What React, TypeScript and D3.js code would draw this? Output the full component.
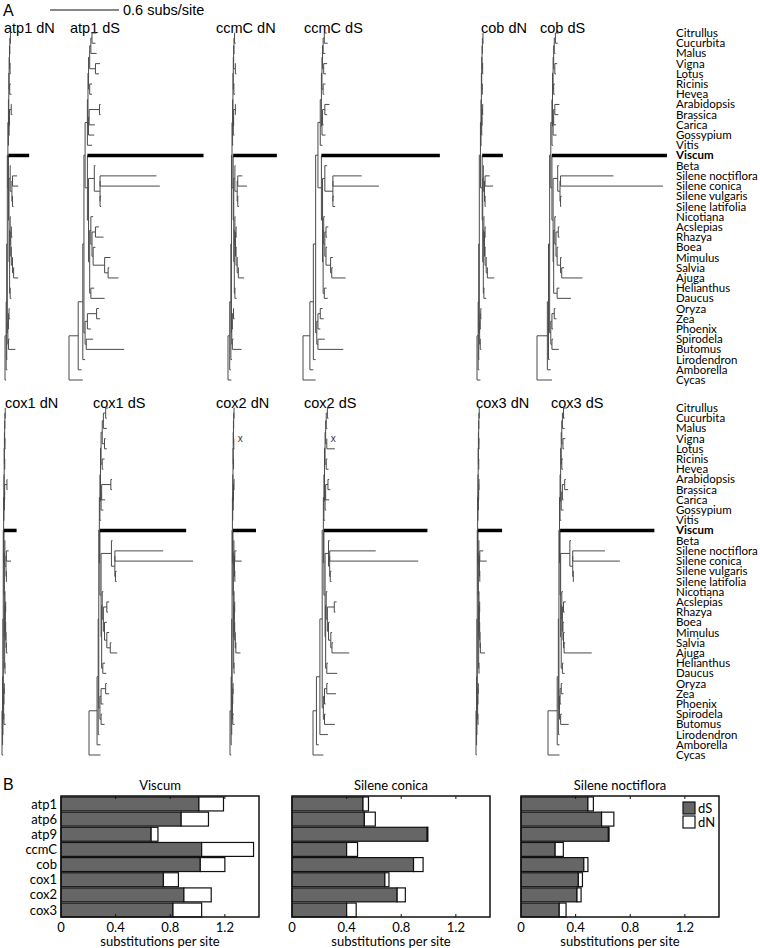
import React from 'react';
import * as d3 from 'd3';

// ---- taxa, top to bottom ----
const TAXA = [
  'Citrullus', 'Cucurbita', 'Malus', 'Vigna', 'Lotus', 'Ricinis', 'Hevea', 'Arabidopsis',
  'Brassica', 'Carica', 'Gossypium', 'Vitis', 'Viscum', 'Beta', 'Silene noctiflora',
  'Silene conica', 'Silene vulgaris', 'Silene latifolia', 'Nicotiana', 'Acslepias', 'Rhazya',
  'Boea', 'Mimulus', 'Salvia', 'Ajuga', 'Helianthus', 'Daucus', 'Oryza', 'Zea', 'Phoenix',
  'Spirodela', 'Butomus', 'Lirodendron', 'Amborella', 'Cycas',
];

// ---- species tree topology (nested pairs) ----
const FABIDS = [[[['Citrullus', 'Cucurbita'], 'Malus'], ['Vigna', 'Lotus']], ['Ricinis', 'Hevea']];
const MALVIDS = [[['Arabidopsis', 'Brassica'], 'Carica'], 'Gossypium'];
const ROSIDS = [[FABIDS, MALVIDS], 'Vitis'];
const CARYO = ['Beta', [['Silene noctiflora', 'Silene conica'], ['Silene vulgaris', 'Silene latifolia']]];
const ASTERIDS = [['Nicotiana', [['Acslepias', 'Rhazya'], ['Boea', ['Mimulus', ['Salvia', 'Ajuga']]]]], ['Helianthus', 'Daucus']];
const SUPERASTERIDS = ['Viscum', [CARYO, ASTERIDS]];
const MONOCOTS = [[['Oryza', 'Zea'], 'Phoenix'], ['Spirodela', 'Butomus']];
const TOPOLOGY = [[[[[ROSIDS, SUPERASTERIDS], MONOCOTS], 'Lirodendron'], 'Amborella'], 'Cycas'];

// ---- branch lengths, 0.01 subs/site, in preorder ----
// A1 A2 A3 Eud |
// Ros Core Fab F1 F2 CC Cit Cuc Mal VL Vig Lot RH Ric Hev Malv M1 AB Ara Bra Car Gos Vit |
// Sup Vis CA Caryo Beta Sil SnSc Sn Sc SvSl Sv Sl |
// Ast Lam Nic L1 AR Acs Rha L2 Boe L3 Mim SA Sal Aju Camp Hel Dau |
// Mono MO1 OZ Ory Zea Pho SB Spi But | Lir Amb Cyc
const ATP1_DN = [
  1, 0.5, 0.5, 0.5,
  0.5, 0.3, 0.3, 0.3, 0.3, 0.5, 0.5, 0.5, 0.5, 0.5, 0.5, 0.5, 0.5, 1, 1.5, 0.3, 0.3, 1.5, 0.5, 1, 0.5, 0.5, 0.5,
  0.5, 18, 0.5, 1, 0.5, 1.5, 0.5, 4, 5, 0.5, 0.5, 1,
  0.5, 0.5, 0.5, 0.5, 0.5, 0.5, 1, 0.5, 0.5, 1, 0.5, 1, 0.5, 4, 0.5, 0.5, 1,
  0.5, 0.5, 0.5, 0.5, 1, 0.5, 0.5, 1, 6,
  0.5, 1, 1,
];
const ATP1_DS = [
  8, 4, 1, 1,
  2, 0.5, 0.5, 1, 1, 1, 4, 3, 5, 5, 4, 3, 1, 2, 2, 0.5, 0.5, 9, 1, 1, 5, 5, 4,
  2, 101, 1, 5, 1, 5, 0, 49, 52, 0, 1, 1,
  1, 1, 2, 1, 3, 3, 7, 1, 2, 10, 5, 3, 1, 9, 1, 3, 12,
  1, 2, 8, 2, 3, 3, 1, 6, 33,
  2, 3, 12,
];
const CCMC_DN = [
  1.5, 1, 0.5, 0.5,
  0.5, 0.3, 0.3, 0.3, 0.3, 0.5, 0.5, 1, 0.5, 1.5, 0.5, 1, 0.5, 0.5, 1, 0.3, 0.3, 1.5, 0.5, 0.5, 0.5, 1, 0.5,
  1, 38, 0.5, 1, 0.5, 2, 0.5, 4, 8, 0.5, 0.5, 1,
  0.5, 0.5, 0.5, 0.5, 0.5, 0.5, 0.5, 0.5, 0.5, 1, 0.5, 1, 0.5, 5, 0.5, 0.5, 1.5,
  0.3, 0.5, 1, 0.5, 1, 0.5, 0.5, 1, 8,
  1, 1, 3,
];
const CCMC_DS = [
  6, 3, 2, 2,
  2, 1, 0.5, 0.5, 0.5, 1, 2, 3, 2, 1, 3, 2, 1, 2, 1, 0.5, 0.5, 2, 4, 2, 1, 3, 2,
  3, 103, 1, 2, 2, 7, 0, 25, 40, 0, 1, 2,
  0.5, 0.5, 1, 1, 1, 2, 1, 1, 1, 4, 2, 1, 1, 12, 1, 2, 3,
  1, 1, 2, 2, 3, 2, 1, 6, 22,
  2, 3, 11,
];
const COB_DN = [
  1, 0.5, 0.5, 1,
  0.5, 0.3, 0.3, 0.3, 0.3, 0.5, 0.5, 0.5, 0.5, 0.5, 0.5, 0.5, 0.5, 0.5, 0.5, 0.3, 0.3, 0.5, 0.5, 0.5, 0.5, 0.5, 0.5,
  1.5, 18, 0.5, 0.5, 0.5, 1, 0.5, 4, 7, 0.5, 0.5, 0.5,
  0.5, 0.5, 0.5, 0.5, 0.5, 0.5, 0.5, 0.5, 0.5, 1, 0.5, 1, 0.5, 6, 0.5, 0.5, 2,
  0.3, 0.5, 0.5, 0.5, 0.5, 0.5, 0.5, 0.5, 1,
  0.5, 1, 3,
];
const COB_DS = [
  9, 1, 1, 1,
  1, 0.5, 0.5, 0.5, 0.5, 1, 3, 2, 1, 1, 2, 1, 0.5, 1, 1, 0.5, 0.5, 1, 4, 3, 2, 3, 1,
  1, 100, 1, 4, 1, 2, 0.5, 46, 89, 0.5, 1, 0.5,
  0.5, 1, 1, 1, 2, 1, 1, 1, 1, 3, 1, 1, 2, 18, 3, 2, 12,
  1, 1, 2, 1, 2, 1, 1, 1, 6,
  1, 3, 13,
];
const COX1_DN = [
  0.5, 0.3, 0.3, 0.3,
  0.3, 0.2, 0.2, 0.2, 0.2, 0.3, 0.3, 0.3, 0.3, 0.3, 0.3, 0.3, 0.3, 0.3, 0.3, 0.2, 0.2, 2, 0.3, 0.5, 0.3, 0.3, 0.3,
  0.3, 11, 0.3, 0.5, 0.3, 1, 0.3, 2, 4, 0.3, 0.3, 0.5,
  0.3, 0.3, 0.3, 0.3, 0.3, 0.3, 0.3, 0.3, 0.3, 0.3, 0.3, 0.3, 0.3, 1, 0.3, 0.3, 0.5,
  0.3, 0.3, 0.3, 0.3, 0.3, 0.3, 0.3, 0.5, 1.5,
  0.3, 0.5, 1,
];
const COX1_DS = [
  7, 1, 0.5, 0.5,
  0.5, 0.5, 0.5, 1, 1, 2, 2, 1, 3, 2, 1, 2, 1, 2, 1, 0.5, 0.5, 8, 1, 1, 3, 2, 1,
  0.5, 75, 1, 9, 1, 3, 0, 42, 68, 0.5, 1, 1,
  0.5, 0.5, 1, 1, 3, 2, 1, 1, 2, 2, 2, 3, 1, 6, 1, 2, 3,
  1, 1, 4, 1, 3, 2, 1, 1, 3,
  1, 3, 10,
];
const COX2_DN = [
  1, 0.5, 0.3, 0.3,
  0.3, 0.2, 0.2, 0.2, 0.2, 0.3, 0.3, 0.3, 0.3, 0.3, 0, 0.5, 0.3, 0.3, 0.3, 0.2, 0.2, 0.5, 0.3, 0.3, 0.3, 0.3, 0.3,
  0.5, 20, 0.3, 0.5, 0.3, 0.5, 0.3, 1.5, 6, 0.3, 0.3, 0.3,
  0.3, 0.3, 0.3, 0.3, 0.3, 0.3, 0.3, 0.3, 0.3, 0.5, 0.3, 0.5, 0.3, 4, 0.3, 0.3, 0.5,
  0.3, 0.3, 0.3, 0.3, 0.3, 0.3, 0.3, 1, 1.5,
  0.3, 0.5, 1,
];
const COX2_DS = [
  3, 3, 2, 1,
  0.5, 0.5, 0.5, 0.5, 0.5, 1, 2, 1, 1, 1, 0, 7, 1, 1, 2, 0.5, 0.5, 2, 1, 2, 3, 1, 1,
  0.5, 90, 1, 3, 1, 1, 0, 40, 77, 0.5, 1, 1,
  0.5, 0.5, 1, 1, 6, 2, 1, 1, 1, 2, 1, 1, 1, 15, 1, 1, 9,
  1, 1, 2, 1, 8, 1, 1, 1, 9,
  7, 2, 9,
];
const COX3_DN = [
  0.5, 0.3, 0.3, 0.3,
  0.3, 0.2, 0.2, 0.2, 0.2, 0.3, 0.3, 0.3, 0.3, 0.3, 0.3, 0.3, 0.3, 0.3, 0.3, 0.2, 0.2, 0.3, 0.3, 0.3, 0.3, 0.3, 0.3,
  0.3, 21, 0.3, 0.5, 0.3, 0.5, 0.3, 3, 6, 0.3, 0.3, 0.3,
  0.3, 0.3, 0.3, 0.3, 0.3, 0.3, 0.3, 0.3, 0.3, 0.3, 0.3, 0.3, 0.3, 4, 0.3, 0.3, 0.3,
  0.3, 0.3, 0.3, 0.3, 0.3, 0.3, 0.3, 0.3, 0.5,
  0.3, 0.5, 0.5,
];
const COX3_DS = [
  8, 1, 0.5, 0.5,
  0.5, 0.5, 0.5, 0.5, 0.5, 1, 3, 1, 2, 1, 2, 1, 0.5, 1, 1, 0.5, 1, 2, 1, 3, 1, 2, 1,
  0.5, 82, 0.5, 8, 1, 2.5, 0, 28, 41, 0.5, 0.5, 0.5,
  0.5, 0.5, 1, 0.5, 1, 2, 1, 0.5, 1, 0.5, 1, 0.5, 1, 24, 1, 1, 2,
  0.5, 0.5, 1, 1, 2, 1, 1, 1, 7,
  1, 2, 10,
];

const TREE_TITLES = [
  'atp1 dN', 'atp1 dS', 'ccmC dN', 'ccmC dS', 'cob dN', 'cob dS',
  'cox1 dN', 'cox1 dS', 'cox2 dN', 'cox2 dS', 'cox3 dN', 'cox3 dS',
];
const TREE_LENGTHS = [
  ATP1_DN, ATP1_DS, CCMC_DN, CCMC_DS, COB_DN, COB_DS,
  COX1_DN, COX1_DS, COX2_DN, COX2_DS, COX3_DN, COX3_DS,
];
const MISSING_TIPS = [[], [], [], [], [], [], [], [], ['Vigna'], ['Vigna'], [], []];
const SCALE_BAR = 0.6;

// ---- panel B ----
const GENES = ['atp1', 'atp6', 'atp9', 'ccmC', 'cob', 'cox1', 'cox2', 'cox3'];
const SPECIES = ['Viscum', 'Silene conica', 'Silene noctiflora'];
const VISCUM_DS = [1.01, 0.88, 0.66, 1.03, 1.02, 0.75, 0.9, 0.82];
const VISCUM_DN = [0.18, 0.2, 0.05, 0.38, 0.18, 0.11, 0.2, 0.21];
const CONICA_DS = [0.52, 0.53, 0.99, 0.4, 0.89, 0.68, 0.77, 0.4];
const CONICA_DN = [0.04, 0.08, 0.005, 0.08, 0.07, 0.03, 0.06, 0.07];
const NOCTI_DS = [0.49, 0.59, 0.64, 0.25, 0.46, 0.42, 0.41, 0.28];
const NOCTI_DN = [0.04, 0.09, 0.005, 0.06, 0.03, 0.03, 0.03, 0.05];
const BAR_TICKS = [0, 0.4, 0.8, 1.2];
const BAR_MAX = 1.45;

// ---- layout ----
const PX_PER_UNIT = 115;
const ROW_STEP = 375;
const TREE_LAYOUT = [
  { rootX: 5, titleX: 4 }, { rootX: 69, titleX: 70 }, { rootX: 228, titleX: 216 },
  { rootX: 303, titleX: 304 }, { rootX: 477, titleX: 481 }, { rootX: 537, titleX: 540 },
  { rootX: 2, titleX: 5 }, { rootX: 89, titleX: 93 }, { rootX: 230, titleX: 216 },
  { rootX: 313, titleX: 304 }, { rootX: 476, titleX: 476 }, { rootX: 548, titleX: 551 },
];
const BAR_LEFT = [61, 292, 521];
const BAR_W = 198;
const BAR_TOP = 796;
const BAR_BOTTOM = 917;

const SANS = '"Liberation Sans", Arial, sans-serif';
const LABEL_FONT = 'Lato, "Open Sans", sans-serif';
const LINE = '#4a4a4a';

const tipY = d3.scalePoint<string>().domain(TAXA).range([33, 380]);

function buildTree(lengths: number[], yOf: (name: string) => number) {
  const root: any = d3.hierarchy<any>(TOPOLOGY, (d) => (Array.isArray(d) ? d : null));
  let i = 0;
  root.eachBefore((n: any) => {
    n.dist = n.parent ? n.parent.dist + lengths[i++] / 100 : 0;
  });
  root.eachAfter((n: any) => {
    n.ty = n.children
      ? (n.children[0].ty + n.children[n.children.length - 1].ty) / 2
      : yOf(n.data);
  });
  return root;
}

function TreePanel({ idx }: { idx: number }) {
  const row = idx < 6 ? 0 : 1;
  const off = row * ROW_STEP;
  const { rootX, titleX } = TREE_LAYOUT[idx];
  const missing: string[] = MISSING_TIPS[idx];
  const x = d3.scaleLinear().domain([0, 1]).range([rootX, rootX + PX_PER_UNIT]);
  const root = buildTree(TREE_LENGTHS[idx], (n) => (tipY(n) as number) + off);
  const nodes: any[] = root.descendants();
  const inner = nodes.filter((n) => n.children);
  const branches = nodes.filter((n) => n.parent && !missing.includes(n.data) && n.data !== 'Viscum');
  const viscum = nodes.find((n) => n.data === 'Viscum');
  const gone = nodes.filter((n) => missing.includes(n.data));
  return (
    <g>
      <text x={titleX} y={33 + off} fontFamily={SANS} fontSize={14.5}>{TREE_TITLES[idx]}</text>
      {inner.map((n, k) => (
        <line key={'v' + k} x1={x(n.dist)} x2={x(n.dist)}
          y1={n.children[0].ty} y2={n.children[n.children.length - 1].ty}
          stroke={LINE} strokeWidth={1} />
      ))}
      {branches.map((n, k) => (
        <line key={'h' + k} x1={x(n.parent.dist)} x2={x(n.dist)} y1={n.ty} y2={n.ty}
          stroke={LINE} strokeWidth={1} />
      ))}
      <line x1={x(viscum.parent.dist)} x2={x(viscum.dist)} y1={viscum.ty} y2={viscum.ty}
        stroke="#000" strokeWidth={3.5} />
      {gone.map((n, k) => (
        <text key={'x' + k} x={x(n.dist) + 4} y={n.ty + 3} fontFamily={SANS} fontSize={10} fill="#333">x</text>
      ))}
    </g>
  );
}

function TaxonLabels({ row }: { row: number }) {
  return (
    <g>
      {TAXA.map((t) => (
        <text key={t} x={676} y={(tipY(t) as number) + row * ROW_STEP} dy="0.35em"
          fontFamily={LABEL_FONT} fontSize={11.5} fontWeight={t === 'Viscum' ? 'bold' : 'normal'}>
          {t}
        </text>
      ))}
    </g>
  );
}

function BarPanel({ s }: { s: number }) {
  const ds = [VISCUM_DS, CONICA_DS, NOCTI_DS][s];
  const dn = [VISCUM_DN, CONICA_DN, NOCTI_DN][s];
  const left = BAR_LEFT[s];
  const x = d3.scaleLinear().domain([0, BAR_MAX]).range([left, left + BAR_W]);
  const y = d3.scaleBand<string>().domain(GENES).range([BAR_TOP + 1, BAR_BOTTOM]).paddingInner(0.08);
  return (
    <g fontFamily={LABEL_FONT}>
      <text x={left + BAR_W / 2} y={790} textAnchor="middle" fontSize={13}>{SPECIES[s]}</text>
      {GENES.map((g, i) => (
        <g key={g}>
          <rect x={x(0)} y={y(g)} width={x(ds[i]) - x(0)} height={y.bandwidth()}
            fill="#666" stroke="#111" strokeWidth={1.2} />
          <rect x={x(ds[i])} y={y(g)} width={x(ds[i] + dn[i]) - x(ds[i])} height={y.bandwidth()}
            fill="#fff" stroke="#111" strokeWidth={1.2} />
          {s === 0 && (
            <text x={left - 4} y={(y(g) as number) + y.bandwidth() / 2} dy="0.35em"
              textAnchor="end" fontSize={13}>{g}</text>
          )}
        </g>
      ))}
      <rect x={left} y={BAR_TOP} width={BAR_W} height={BAR_BOTTOM - BAR_TOP}
        fill="none" stroke="#111" strokeWidth={1.5} />
      {BAR_TICKS.map((t) => (
        <g key={t}>
          {t > 0 && <line x1={x(t)} x2={x(t)} y1={BAR_BOTTOM} y2={BAR_BOTTOM - 3} stroke="#111" />}
          {t > 0 && <line x1={x(t)} x2={x(t)} y1={BAR_TOP} y2={BAR_TOP + 3} stroke="#111" />}
          <text x={x(t)} y={932} textAnchor="middle" fontSize={13}>{t === 0 ? '0' : t.toFixed(1)}</text>
        </g>
      ))}
      <text x={left + BAR_W / 2} y={946} textAnchor="middle" fontSize={13}>substitutions per site</text>
      {s === 2 && (
        <g>
          <rect x={683} y={802} width={12} height={12} fill="#666" stroke="#111" strokeWidth={1.2} />
          <rect x={683} y={816} width={12} height={12} fill="#fff" stroke="#111" strokeWidth={1.2} />
          <text x={698} y={813} fontSize={13}>dS</text>
          <text x={698} y={827} fontSize={13}>dN</text>
        </g>
      )}
    </g>
  );
}

export default function App() {
  const sb = d3.scaleLinear().domain([0, 1]).range([50, 50 + PX_PER_UNIT]);
  return (
    <svg width={760} height={948} style={{ position: 'absolute', left: 0, top: 0, background: '#fff' }}>
      <text x={3} y={16} fontFamily={SANS} fontSize={16}>A</text>
      <line x1={sb(0)} x2={sb(SCALE_BAR)} y1={10} y2={10} stroke="#111" strokeWidth={1} />
      <text x={sb(SCALE_BAR) + 4} y={15} fontFamily={SANS} fontSize={14.5}>{SCALE_BAR} subs/site</text>
      {TREE_TITLES.map((_, i) => <TreePanel key={i} idx={i} />)}
      <TaxonLabels row={0} />
      <TaxonLabels row={1} />
      <text x={3} y={790} fontFamily={SANS} fontSize={16}>B</text>
      {SPECIES.map((_, s) => <BarPanel key={s} s={s} />)}
    </svg>
  );
}
